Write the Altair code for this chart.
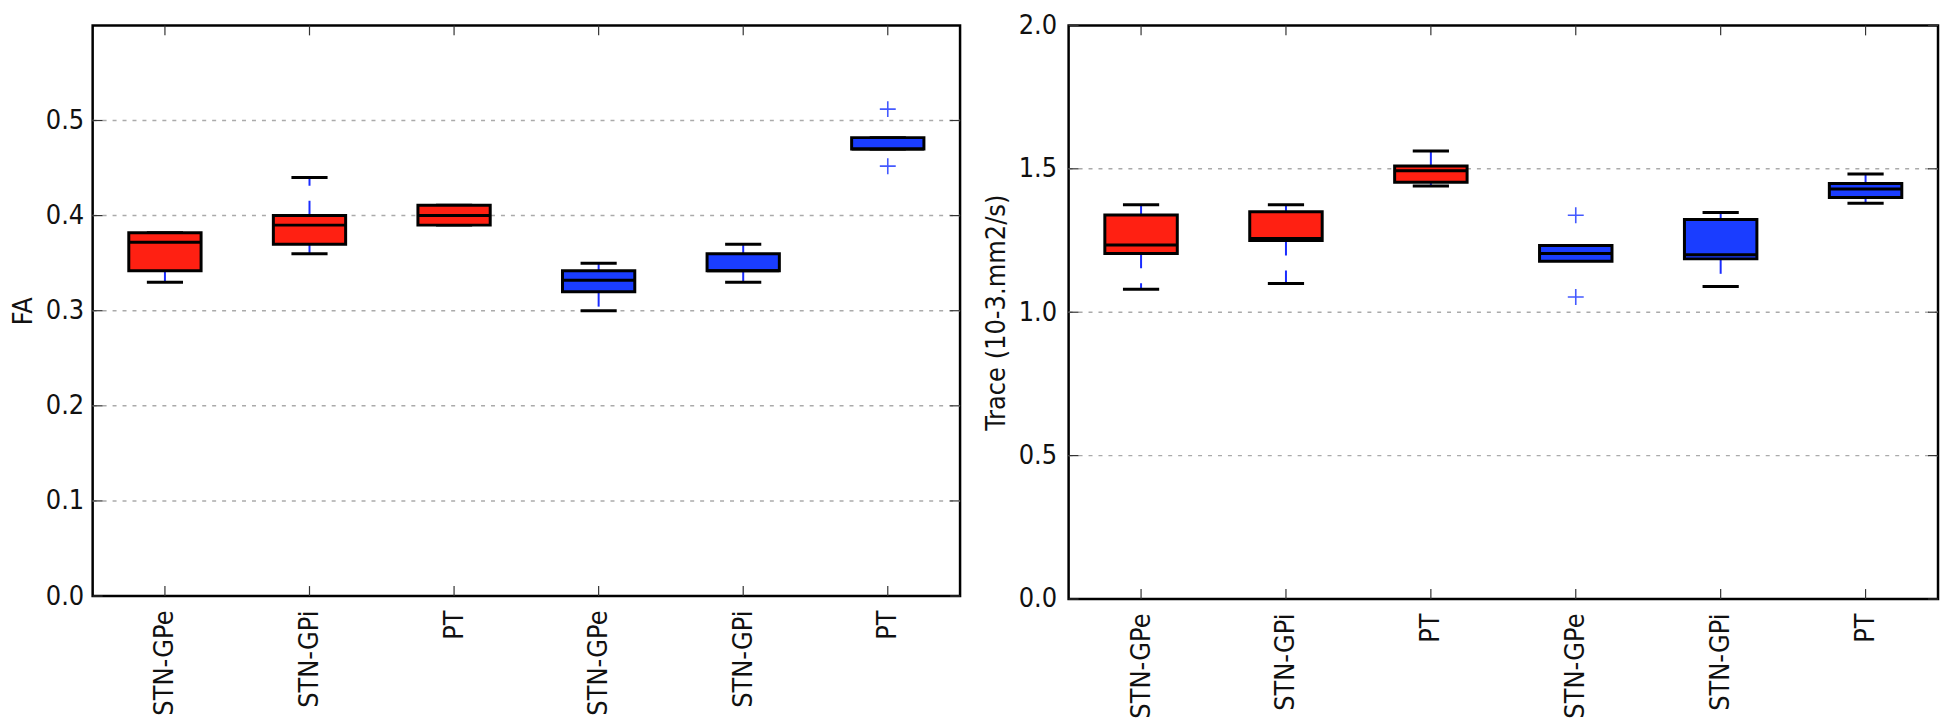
import json
import altair as alt
import pandas as pd

# ---------------- data ----------------
names = ["STN-GPe", "STN-GPi", "PT", "STN-GPe", "STN-GPi", "PT"]
positions = [1, 2, 3, 4, 5, 6]
groups = ["Group 1", "Group 1", "Group 1", "Group 2", "Group 2", "Group 2"]

# FA panel
fa_lo = [0.33, 0.36, 0.39, 0.30, 0.33, 0.47]
fa_q1 = [0.342, 0.37, 0.39, 0.32, 0.342, 0.47]
fa_med = [0.372, 0.39, 0.40, 0.332, 0.342, 0.47]
fa_q3 = [0.382, 0.40, 0.411, 0.342, 0.36, 0.482]
fa_hi = [0.382, 0.44, 0.411, 0.35, 0.37, 0.482]
fa_out_pos = [6, 6]
fa_out_val = [0.512, 0.452]
fa_yticks = [0.0, 0.1, 0.2, 0.3, 0.4, 0.5]
fa_grid = [0.1, 0.2, 0.3, 0.4, 0.5]

# Trace panel
tr_lo = [1.08, 1.10, 1.44, 1.18, 1.09, 1.38]
tr_q1 = [1.205, 1.25, 1.453, 1.178, 1.186, 1.40]
tr_med = [1.234, 1.257, 1.493, 1.205, 1.20, 1.43]
tr_q3 = [1.339, 1.35, 1.51, 1.233, 1.323, 1.449]
tr_hi = [1.375, 1.375, 1.562, 1.233, 1.348, 1.482]
tr_out_pos = [4, 4]
tr_out_val = [1.338, 1.053]
tr_yticks = [0.0, 0.5, 1.0, 1.5, 2.0]
tr_grid = [0.5, 1.0, 1.5]

# ---------------- style ----------------
FONT = "DejaVu Sans Condensed, DejaVu Sans"
FS = 27
RED = "#ff2012"
BLUE = "#1a3dff"
WHISK = "#1a2cff"
TICK = "#333333"


def panel(lo, q1, med, q3, hi, out_pos, out_val, yticks, grid, ydomain, ytitle, W, H, lpad):
    df = pd.DataFrame(dict(pos=positions, name=names, grp=groups,
                           lo=lo, q1=q1, med=med, q3=q3, hi=hi))
    dout = pd.DataFrame(dict(pos=out_pos, val=out_val))
    dyt = pd.DataFrame(dict(v=yticks))
    dgrid = pd.DataFrame(dict(v=grid))

    xs = alt.Scale(domain=[0.5, 6.5], nice=False, zero=False)
    ys = alt.Scale(domain=ydomain, nice=False, zero=False)

    xaxis = alt.Axis(values=positions,
                     labelExpr=json.dumps(names) + "[datum.value - 1]",
                     labelAngle=270, labelFont=FONT, labelFontSize=FS,
                     labelColor="#111111", labelPadding=14, labelFlush=False,
                     ticks=False, domain=False, grid=False, title=None)
    yaxis = alt.Axis(values=yticks, format=".1f", grid=False, ticks=False, domain=False,
                     labelFont=FONT, labelFontSize=FS, labelColor="#111111",
                     labelPadding=lpad, labelFlush=False,
                     title=ytitle, titleFont=FONT, titleFontSize=FS,
                     titleFontWeight="normal", titleColor="#111111", titlePadding=8)

    base = alt.Chart(df).transform_calculate(
        xl="datum.pos - 0.25", xr="datum.pos + 0.25",
        cl="datum.pos - 0.125", cr="datum.pos + 0.125")

    X = lambda f: alt.X(f, type="quantitative", scale=xs, axis=xaxis, title=None)
    Y = lambda f: alt.Y(f, type="quantitative", scale=ys, axis=yaxis, title=ytitle)

    gridlines = alt.Chart(dgrid).mark_rule(color="#aaaaaa", strokeWidth=1.5,
                                           strokeDash=[4, 6]).encode(
        y=Y("v"), x=alt.value(0), x2=alt.value(W))
    whisk_lo = base.mark_rule(color=WHISK, strokeWidth=2, strokeDash=[15, 15]).encode(
        x=X("pos"), y=Y("q1"), y2="lo")
    whisk_hi = base.mark_rule(color=WHISK, strokeWidth=2, strokeDash=[15, 15]).encode(
        x=X("pos"), y=Y("q3"), y2="hi")
    cap_lo = base.mark_rule(color="black", strokeWidth=3).encode(
        x=X("cl"), x2="cr", y=Y("lo"))
    cap_hi = base.mark_rule(color="black", strokeWidth=3).encode(
        x=X("cl"), x2="cr", y=Y("hi"))
    box = base.mark_bar(stroke="black", strokeWidth=3, opacity=1).encode(
        x=X("xl"), x2="xr", y=Y("q1"), y2="q3",
        color=alt.Color("grp:N", scale=alt.Scale(domain=["Group 1", "Group 2"],
                                                  range=[RED, BLUE]), legend=None))
    median = base.mark_rule(color="black", strokeWidth=3).encode(
        x=X("xl"), x2="xr", y=Y("med"))
    fliers = alt.Chart(dout).mark_point(
        shape="M-1,0L1,0M0,-1L0,1", size=256, filled=False,
        stroke="#3048ff", strokeWidth=1.6, opacity=0.9).encode(
        x=X("pos"), y=Y("val"))

    tick_b = alt.Chart(df).mark_rule(color=TICK, strokeWidth=1.2).encode(
        x=X("pos"), y=alt.value(H), y2=alt.value(H - 10))
    tick_t = alt.Chart(df).mark_rule(color=TICK, strokeWidth=1.2).encode(
        x=X("pos"), y=alt.value(0), y2=alt.value(10))
    tick_l = alt.Chart(dyt).mark_rule(color=TICK, strokeWidth=1.2).encode(
        y=Y("v"), x=alt.value(0), x2=alt.value(10))
    tick_r = alt.Chart(dyt).mark_rule(color=TICK, strokeWidth=1.2).encode(
        y=Y("v"), x=alt.value(W), x2=alt.value(W - 10))

    return alt.layer(gridlines, whisk_lo, whisk_hi, cap_lo, cap_hi, box, median,
                     fliers, tick_b, tick_t, tick_l, tick_r).properties(width=W, height=H)


left = panel(fa_lo, fa_q1, fa_med, fa_q3, fa_hi, fa_out_pos, fa_out_val,
             fa_yticks, fa_grid, [0.0, 0.6], "FA", 871, 573, 9)
right = panel(tr_lo, tr_q1, tr_med, tr_q3, tr_hi, tr_out_pos, tr_out_val,
              tr_yticks, tr_grid, [0.0, 2.0], "Trace (10-3.mm2/s)", 873, 576, 12)

chart = alt.hconcat(left, right, spacing=109, bounds="flush").properties(
    padding={"left": 0, "top": 0, "right": 2, "bottom": 0}
).configure_view(stroke="black", strokeWidth=2.5)

chart.save("out.html", embed_options={"renderer": "svg", "actions": False})
